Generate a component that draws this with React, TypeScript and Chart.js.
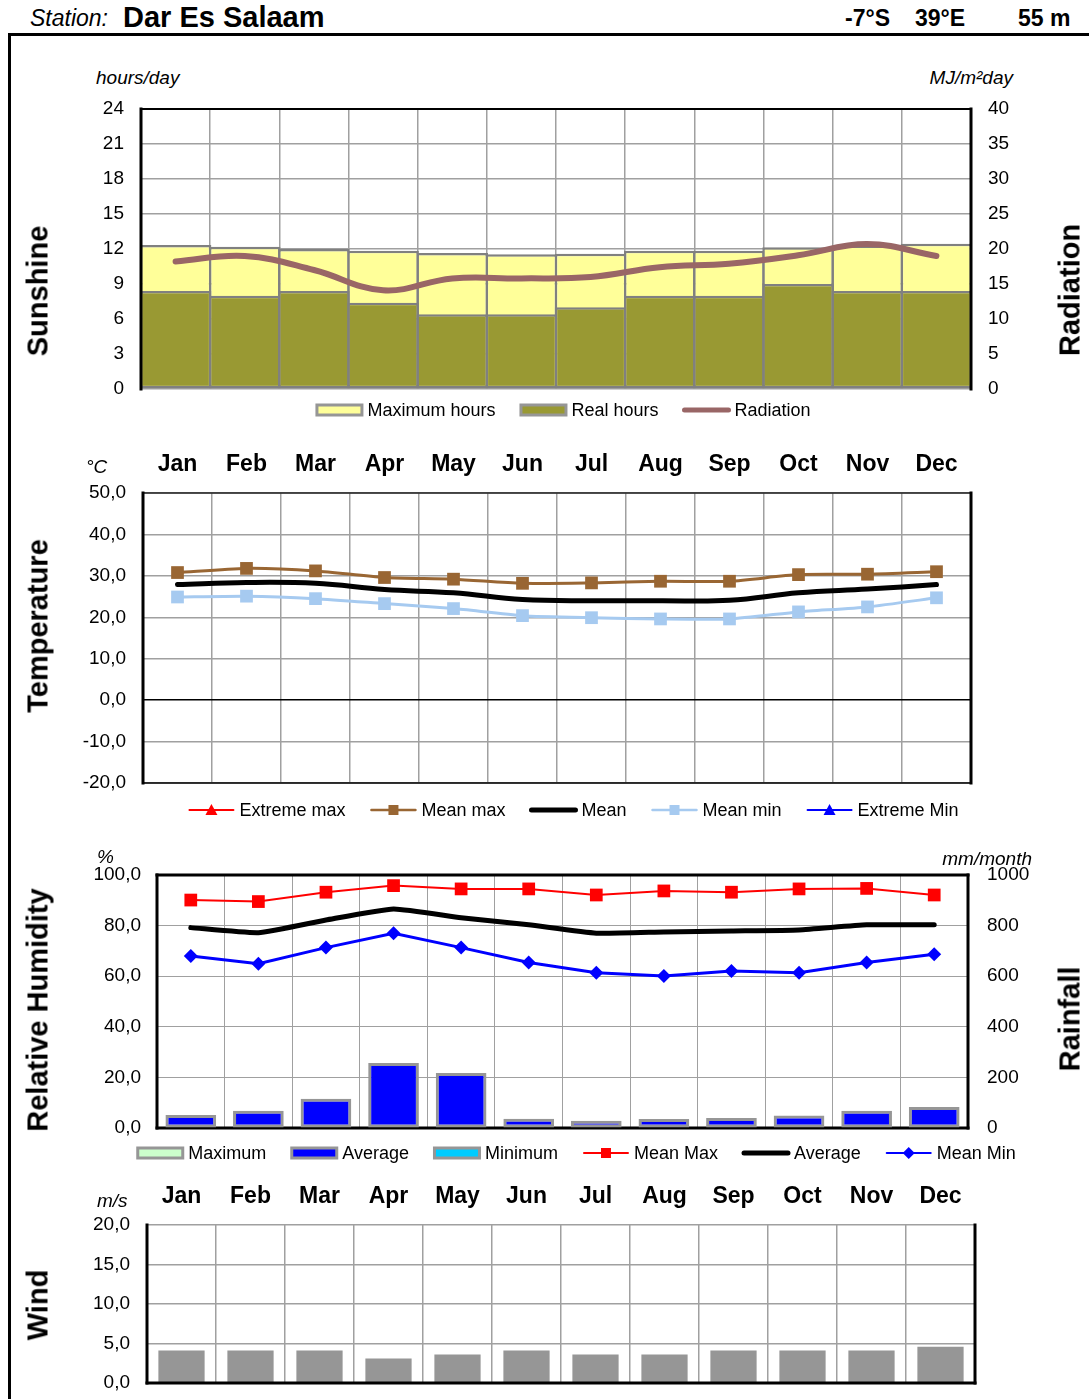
import React, { useEffect, useRef } from 'react';
import { Chart, registerables } from 'chart.js';
Chart.register(...registerables);

const MONTHS = ['Jan', 'Feb', 'Mar', 'Apr', 'May', 'Jun', 'Jul', 'Aug', 'Sep', 'Oct', 'Nov', 'Dec'];

// Sunshine (hours/day) and radiation (MJ/m²day)
const MAX_HOURS = [12.35, 12.2, 12.0, 11.85, 11.65, 11.55, 11.6, 11.85, 11.85, 12.15, 12.3, 12.45];
const REAL_HOURS = [8.4, 8.0, 8.4, 7.4, 6.4, 6.4, 7.0, 8.0, 8.0, 9.0, 8.4, 8.4];
const RADIATION = [18.2, 19.0, 17.0, 14.1, 15.8, 15.8, 16.0, 17.4, 17.9, 19.1, 20.7, 19.0];

// Temperature (°C)
const TEMP_MEAN_MAX = [30.8, 31.8, 31.2, 29.6, 29.2, 28.2, 28.3, 28.7, 28.7, 30.3, 30.4, 31.0];
const TEMP_MEAN = [27.9, 28.4, 28.2, 26.7, 25.9, 24.3, 24.0, 24.0, 24.1, 25.9, 26.8, 27.9];
const TEMP_MEAN_MIN = [24.9, 25.1, 24.5, 23.3, 22.1, 20.4, 19.9, 19.6, 19.6, 21.3, 22.5, 24.7];

// Relative humidity (%) and rainfall (mm/month)
const RH_MEAN_MAX = [90.1, 89.5, 93.2, 95.8, 94.5, 94.5, 92.1, 93.7, 93.2, 94.5, 94.7, 92.1];
const RH_AVERAGE = [79.2, 77.2, 82.2, 86.6, 83.1, 80.3, 77.0, 77.5, 77.9, 78.3, 80.3, 80.3];
const RH_MEAN_MIN = [68.0, 64.9, 71.3, 77.0, 71.3, 65.4, 61.4, 60.1, 62.1, 61.4, 65.4, 68.7];
const RAIN_AVERAGE = [51, 68, 116, 257, 217, 37, 29, 36, 40, 49, 68, 83];

// Wind (m/s)
const WIND = [4.1, 4.1, 4.1, 3.1, 3.6, 4.1, 3.6, 3.6, 4.1, 4.1, 4.1, 4.6];

// Axis tick settings
const SUN_TICKS = { min: 0, max: 24, step: 3 };
const RAD_TICKS = { min: 0, max: 40, step: 5 };
const TEMP_TICKS = { min: -20, max: 50, step: 10 };
const RH_TICKS = { min: 0, max: 100, step: 20 };
const RAIN_TICKS = { min: 0, max: 1000, step: 200 };
const WIND_TICKS = { min: 0, max: 20, step: 5 };

const FONT = '"Liberation Sans", Arial, Helvetica, sans-serif';
const GRID = '#A0A0A0';

const fmt1 = (v: any) => Number(v).toFixed(1).replace('.', ',');
const fmt0 = (v: any) => String(v);
const tickFont = { family: FONT, size: 19 };
const monthFont = { family: FONT, size: 23, weight: 'bold' as const };

const fixW = (w: number) => (s: any) => {
  s.width = w;
  s.paddingTop = 0;
  s.paddingBottom = 0;
};
const fixH = (h: number) => (s: any) => {
  s.height = h;
  s.paddingLeft = 0;
  s.paddingRight = 0;
};

function drawMarker(ctx: CanvasRenderingContext2D, kind: string, x: number, y: number, s: number, color: string) {
  ctx.fillStyle = color;
  ctx.beginPath();
  if (kind === 'rect') {
    ctx.rect(x - s / 2, y - s / 2, s, s);
  } else if (kind === 'diamond') {
    ctx.moveTo(x, y - s / 2 - 1);
    ctx.lineTo(x + s / 2 + 1, y);
    ctx.lineTo(x, y + s / 2 + 1);
    ctx.lineTo(x - s / 2 - 1, y);
    ctx.closePath();
  } else if (kind === 'triangle') {
    ctx.moveTo(x, y - s / 2 - 1);
    ctx.lineTo(x + s / 2 + 1, y + s / 2);
    ctx.lineTo(x - s / 2 - 1, y + s / 2);
    ctx.closePath();
  }
  ctx.fill();
}

type LegendItem = { label: string; type: 'box' | 'line'; fill?: string; color?: string; lw?: number; marker?: string };

function makeLegend(id: string, cx: number, y: number, items: LegendItem[]) {
  return {
    id,
    afterDraw(chart: any) {
      const ctx: CanvasRenderingContext2D = chart.ctx;
      ctx.save();
      ctx.font = `18px ${FONT}`;
      const SW = 48, GT = 4, GI = 24;
      const widths = items.map((it) => SW + GT + ctx.measureText(it.label).width);
      const total = widths.reduce((a, b) => a + b, 0) + GI * (items.length - 1);
      let x = cx - total / 2;
      items.forEach((it, i) => {
        if (it.type === 'box') {
          ctx.fillStyle = it.fill!;
          ctx.fillRect(x + 1.5, y - 5, SW - 3, 10);
          ctx.strokeStyle = '#969696';
          ctx.lineWidth = 3;
          ctx.strokeRect(x + 1.5, y - 5, SW - 3, 10);
        } else {
          ctx.strokeStyle = it.color!;
          ctx.lineWidth = it.lw || 2;
          ctx.lineCap = 'round';
          ctx.beginPath();
          ctx.moveTo(x + 2, y);
          ctx.lineTo(x + SW - 2, y);
          ctx.stroke();
          if (it.marker) drawMarker(ctx, it.marker, x + SW / 2, y, 10, it.color!);
        }
        ctx.fillStyle = '#000';
        ctx.textAlign = 'left';
        ctx.textBaseline = 'middle';
        ctx.fillText(it.label, x + SW + GT, y + 1);
        x += widths[i] + GI;
      });
      ctx.restore();
    },
  };
}

type Side = [string, number] | null;
function makeFrame(id: string, sides: { left?: Side; right?: Side; top?: Side; bottom?: Side }, phase: 'before' | 'after') {
  const draw = (chart: any) => {
    const { left, right, top, bottom } = chart.chartArea;
    const ctx: CanvasRenderingContext2D = chart.ctx;
    ctx.save();
    ctx.lineCap = 'square';
    const line = (s: Side | undefined, x1: number, y1: number, x2: number, y2: number) => {
      if (!s) return;
      ctx.strokeStyle = s[0];
      ctx.lineWidth = s[1];
      ctx.beginPath();
      ctx.moveTo(x1, y1);
      ctx.lineTo(x2, y2);
      ctx.stroke();
    };
    line(sides.top, left, top, right, top);
    line(sides.bottom, left, bottom, right, bottom);
    line(sides.left, left, top, left, bottom);
    line(sides.right, right, top, right, bottom);
    ctx.restore();
  };
  return phase === 'before' ? { id, beforeDatasetsDraw: draw } : { id, afterDatasetsDraw: draw };
}

const baseOpts = {
  responsive: false,
  animation: false as const,
  devicePixelRatio: 1,
  events: [] as any[],
};

function sunshineConfig(): any {
  return {
    type: 'bar',
    data: {
      labels: MONTHS,
      datasets: [
        {
          type: 'line', label: 'Radiation', data: RADIATION, yAxisID: 'y2', borderColor: '#996666',
          borderWidth: 6, pointRadius: 0, tension: 0.4, borderCapStyle: 'round', order: 0,
        },
        {
          type: 'bar', label: 'Real hours', data: REAL_HOURS, backgroundColor: '#999933', borderColor: '#808080',
          borderWidth: 2.5, borderSkipped: false, grouped: false, categoryPercentage: 1, barPercentage: 1.035, order: 1,
        },
        {
          type: 'bar', label: 'Maximum hours', data: MAX_HOURS, backgroundColor: '#FFFF99', borderColor: '#808080',
          borderWidth: 2.5, borderSkipped: false, grouped: false, categoryPercentage: 1, barPercentage: 1.035, order: 2,
        },
      ],
    },
    options: {
      ...baseOpts,
      layout: { padding: { left: 0, right: 0, top: 19, bottom: 41 } },
      plugins: { legend: { display: false }, tooltip: { enabled: false } },
      scales: {
        x: {
          offset: true,
          grid: { offset: true, color: GRID, lineWidth: 1.5, drawTicks: false },
          ticks: { display: false },
          border: { display: false },
          afterFit: fixH(0),
        },
        y: {
          position: 'left', min: SUN_TICKS.min, max: SUN_TICKS.max,
          ticks: { stepSize: SUN_TICKS.step, padding: 17, color: '#000', font: tickFont, callback: fmt0 },
          grid: { color: GRID, lineWidth: 1.5, drawTicks: false },
          border: { display: false },
          afterFit: fixW(141),
        },
        y2: {
          position: 'right', min: RAD_TICKS.min, max: RAD_TICKS.max,
          ticks: { stepSize: RAD_TICKS.step, padding: 17, color: '#000', font: tickFont, callback: fmt0 },
          grid: { drawOnChartArea: false, drawTicks: false },
          border: { display: false },
          afterFit: fixW(118),
        },
      },
    },
    plugins: [
      makeFrame('frame1', { left: ['#000', 3], right: ['#000', 3], top: ['#000', 2] }, 'after'),
      makeLegend('legend1', 563, 320, [
        { label: 'Maximum hours', type: 'box', fill: '#FFFF99' },
        { label: 'Real hours', type: 'box', fill: '#999933' },
        { label: 'Radiation', type: 'line', color: '#996666', lw: 5 },
      ]),
    ],
  };
}

function temperatureConfig(): any {
  return {
    type: 'line',
    data: {
      labels: MONTHS,
      datasets: [
        {
          label: 'Mean max', data: TEMP_MEAN_MAX, borderColor: '#996633', backgroundColor: '#996633',
          borderWidth: 3, tension: 0.25, pointStyle: 'rect', pointRadius: 9, pointBorderWidth: 0,
        },
        {
          label: 'Mean', data: TEMP_MEAN, borderColor: '#000000', borderWidth: 5, tension: 0.4, pointRadius: 0,
          borderCapStyle: 'round',
        },
        {
          label: 'Mean min', data: TEMP_MEAN_MIN, borderColor: '#A6CAF0', backgroundColor: '#A6CAF0',
          borderWidth: 3, tension: 0.2, pointStyle: 'rect', pointRadius: 9, pointBorderWidth: 0,
        },
      ],
    },
    options: {
      ...baseOpts,
      layout: { padding: { left: 0, right: 118, top: 0, bottom: 47 } },
      plugins: { legend: { display: false }, tooltip: { enabled: false } },
      scales: {
        x: {
          position: 'top', offset: true,
          grid: { offset: true, color: GRID, lineWidth: 1.5, drawTicks: false },
          ticks: { padding: 15, color: '#000', font: monthFont },
          border: { display: false },
          afterFit: fixH(53),
        },
        y: {
          min: TEMP_TICKS.min, max: TEMP_TICKS.max,
          ticks: { stepSize: TEMP_TICKS.step, padding: 17, color: '#000', font: tickFont, callback: fmt1 },
          grid: {
            color: (c: any) => (c.tick && c.tick.value === 0 ? '#000' : GRID),
            lineWidth: 1.5, drawTicks: false,
          },
          border: { display: false },
          afterFit: fixW(143),
        },
      },
    },
    plugins: [
      makeFrame('frame2', { left: ['#000', 3], right: ['#000', 3], top: ['#222', 1.5], bottom: ['#000', 1.5] }, 'before'),
      makeLegend('legend2', 573, 370, [
        { label: 'Extreme max', type: 'line', color: '#FF0000', lw: 2, marker: 'triangle' },
        { label: 'Mean max', type: 'line', color: '#996633', lw: 2.5, marker: 'rect' },
        { label: 'Mean', type: 'line', color: '#000000', lw: 5 },
        { label: 'Mean min', type: 'line', color: '#A6CAF0', lw: 2.5, marker: 'rect' },
        { label: 'Extreme Min', type: 'line', color: '#0000FF', lw: 2, marker: 'triangle' },
      ]),
    ],
  };
}

function humidityConfig(): any {
  return {
    type: 'bar',
    data: {
      labels: MONTHS,
      datasets: [
        {
          type: 'line', label: 'Mean Max', data: RH_MEAN_MAX, yAxisID: 'y', borderColor: '#FF0000', backgroundColor: '#FF0000',
          borderWidth: 2, tension: 0, pointStyle: 'rect', pointRadius: 9, pointBorderWidth: 0, order: 0,
        },
        {
          type: 'line', label: 'Mean Min', data: RH_MEAN_MIN, yAxisID: 'y', borderColor: '#0000FF', backgroundColor: '#0000FF',
          borderWidth: 3, tension: 0, pointStyle: 'rectRot', pointRadius: 7, pointBorderWidth: 0, order: 1,
        },
        {
          type: 'line', label: 'Average', data: RH_AVERAGE, yAxisID: 'y', borderColor: '#000000',
          borderWidth: 5, tension: 0.15, pointRadius: 0, borderCapStyle: 'round', order: 2,
        },
        {
          type: 'bar', label: 'Average rainfall', data: RAIN_AVERAGE, yAxisID: 'y2', backgroundColor: '#0000FF',
          borderColor: '#969696', borderWidth: 3, borderSkipped: false, grouped: false,
          categoryPercentage: 0.75, barPercentage: 1, order: 3,
        },
      ],
    },
    options: {
      ...baseOpts,
      layout: { padding: { left: 0, right: 0, top: 35, bottom: 52 } },
      plugins: { legend: { display: false }, tooltip: { enabled: false } },
      scales: {
        x: {
          offset: true,
          grid: { offset: true, color: GRID, lineWidth: 1, drawTicks: false },
          ticks: { display: false },
          border: { display: false },
          afterFit: fixH(0),
        },
        y: {
          position: 'left', min: RH_TICKS.min, max: RH_TICKS.max,
          ticks: { stepSize: RH_TICKS.step, padding: 16, color: '#000', font: tickFont, callback: fmt1 },
          grid: { color: GRID, lineWidth: 1, drawTicks: false },
          border: { display: false },
          afterFit: fixW(157),
        },
        y2: {
          position: 'right', min: RAIN_TICKS.min, max: RAIN_TICKS.max,
          ticks: { stepSize: RAIN_TICKS.step, padding: 19, color: '#000', font: tickFont, callback: fmt0 },
          grid: { drawOnChartArea: false, drawTicks: false },
          border: { display: false },
          afterFit: fixW(121),
        },
      },
    },
    plugins: [
      makeFrame('frame3', { left: ['#000', 3], right: ['#000', 3], top: ['#000', 3], bottom: ['#000', 3] }, 'before'),
      makeLegend('legend3', 576, 313, [
        { label: 'Maximum', type: 'box', fill: '#CCFFCC' },
        { label: 'Average', type: 'box', fill: '#0000FF' },
        { label: 'Minimum', type: 'box', fill: '#00CCFF' },
        { label: 'Mean Max', type: 'line', color: '#FF0000', lw: 2, marker: 'rect' },
        { label: 'Average', type: 'line', color: '#000000', lw: 5 },
        { label: 'Mean Min', type: 'line', color: '#0000FF', lw: 2, marker: 'diamond' },
      ]),
    ],
  };
}

function windConfig(): any {
  return {
    type: 'bar',
    data: {
      labels: MONTHS,
      datasets: [
        {
          label: 'Wind', data: WIND, backgroundColor: '#969696', borderWidth: 0,
          categoryPercentage: 0.67, barPercentage: 1,
        },
      ],
    },
    options: {
      ...baseOpts,
      layout: { padding: { left: 0, right: 114, top: 0, bottom: 16 } },
      plugins: { legend: { display: false }, tooltip: { enabled: false } },
      scales: {
        x: {
          position: 'top', offset: true,
          grid: { offset: true, color: GRID, lineWidth: 1.5, drawTicks: false },
          ticks: { padding: 15, color: '#000', font: monthFont },
          border: { display: false },
          afterFit: fixH(55),
        },
        y: {
          min: WIND_TICKS.min, max: WIND_TICKS.max,
          ticks: { stepSize: WIND_TICKS.step, padding: 17, color: '#000', font: tickFont, callback: fmt1 },
          grid: { color: GRID, lineWidth: 1.5, drawTicks: false },
          border: { display: false },
          afterFit: fixW(147),
        },
      },
    },
    plugins: [
      makeFrame('frame4', { left: ['#000', 3], right: ['#000', 3], bottom: ['#000', 3] }, 'after'),
    ],
  };
}

function ChartBox({ left, top, width, height, make }: { left: number; top: number; width: number; height: number; make: () => any }) {
  const ref = useRef<HTMLCanvasElement>(null);
  useEffect(() => {
    const chart = new Chart(ref.current!, make());
    return () => chart.destroy();
  }, []);
  return (
    <div style={{ position: 'absolute', left, top, width, height }}>
      <canvas ref={ref} width={width} height={height} style={{ width, height, display: 'block' }} />
    </div>
  );
}

function Txt({ x, y, align = 'left', size = 18, bold = false, italic = false, children }: any) {
  const tx = align === 'left' ? '0' : align === 'right' ? '-100%' : '-50%';
  return (
    <div
      style={{
        position: 'absolute', left: x, top: y, transform: `translate(${tx}, -50%)`,
        fontFamily: FONT, fontSize: size, fontWeight: bold ? 'bold' : 'normal',
        fontStyle: italic ? 'italic' : 'normal', lineHeight: 1, whiteSpace: 'nowrap', color: '#000',
      }}
    >
      {children}
    </div>
  );
}

function VTxt({ cx, cy, children }: any) {
  return (
    <div
      style={{
        position: 'absolute', left: cx, top: cy, transform: 'translate(-50%, -50%) rotate(-90deg)',
        fontFamily: FONT, fontSize: 29, fontWeight: 'bold', lineHeight: 1, whiteSpace: 'nowrap', color: '#000',
      }}
    >
      {children}
    </div>
  );
}

export default function App() {
  return (
    <div style={{ position: 'absolute', left: 0, top: 0, width: 1089, height: 1399, overflow: 'hidden', background: '#fff' }}>
      {/* header */}
      <Txt x={30} y={18} size={23} italic>Station:</Txt>
      <Txt x={123} y={17} size={29} bold>Dar Es Salaam</Txt>
      <Txt x={845} y={18} size={23} bold>-7°S</Txt>
      <Txt x={915} y={18} size={23} bold>39°E</Txt>
      <Txt x={1018} y={18} size={23} bold>55 m</Txt>
      <div style={{ position: 'absolute', left: 8, top: 33, width: 1100, height: 3, background: '#000' }} />
      <div style={{ position: 'absolute', left: 8, top: 33, width: 3, height: 1400, background: '#000' }} />

      {/* Sunshine */}
      <ChartBox left={0} top={90} width={1089} height={340} make={sunshineConfig} />
      <Txt x={96} y={77} size={19} italic>hours/day</Txt>
      <Txt x={1013} y={77} size={19} align="right" italic>MJ/m²day</Txt>
      <VTxt cx={38} cy={291}>Sunshine</VTxt>
      <VTxt cx={1070} cy={290}>Radiation</VTxt>

      {/* Temperature */}
      <ChartBox left={0} top={440} width={1089} height={390} make={temperatureConfig} />
      <Txt x={86} y={466} size={19} italic>°C</Txt>
      <VTxt cx={38} cy={626}>Temperature</VTxt>

      {/* Humidity / rainfall */}
      <ChartBox left={0} top={840} width={1089} height={340} make={humidityConfig} />
      <Txt x={97} y={856} size={19} italic>%</Txt>
      <Txt x={1032} y={858} size={19} align="right" italic>mm/month</Txt>
      <VTxt cx={38} cy={1010}>Relative Humidity</VTxt>
      <VTxt cx={1070} cy={1019}>Rainfall</VTxt>

      {/* Wind */}
      <ChartBox left={0} top={1170} width={1089} height={229} make={windConfig} />
      <Txt x={97} y={1200} size={19} italic>m/s</Txt>
      <VTxt cx={38} cy={1305}>Wind</VTxt>
    </div>
  );
}
